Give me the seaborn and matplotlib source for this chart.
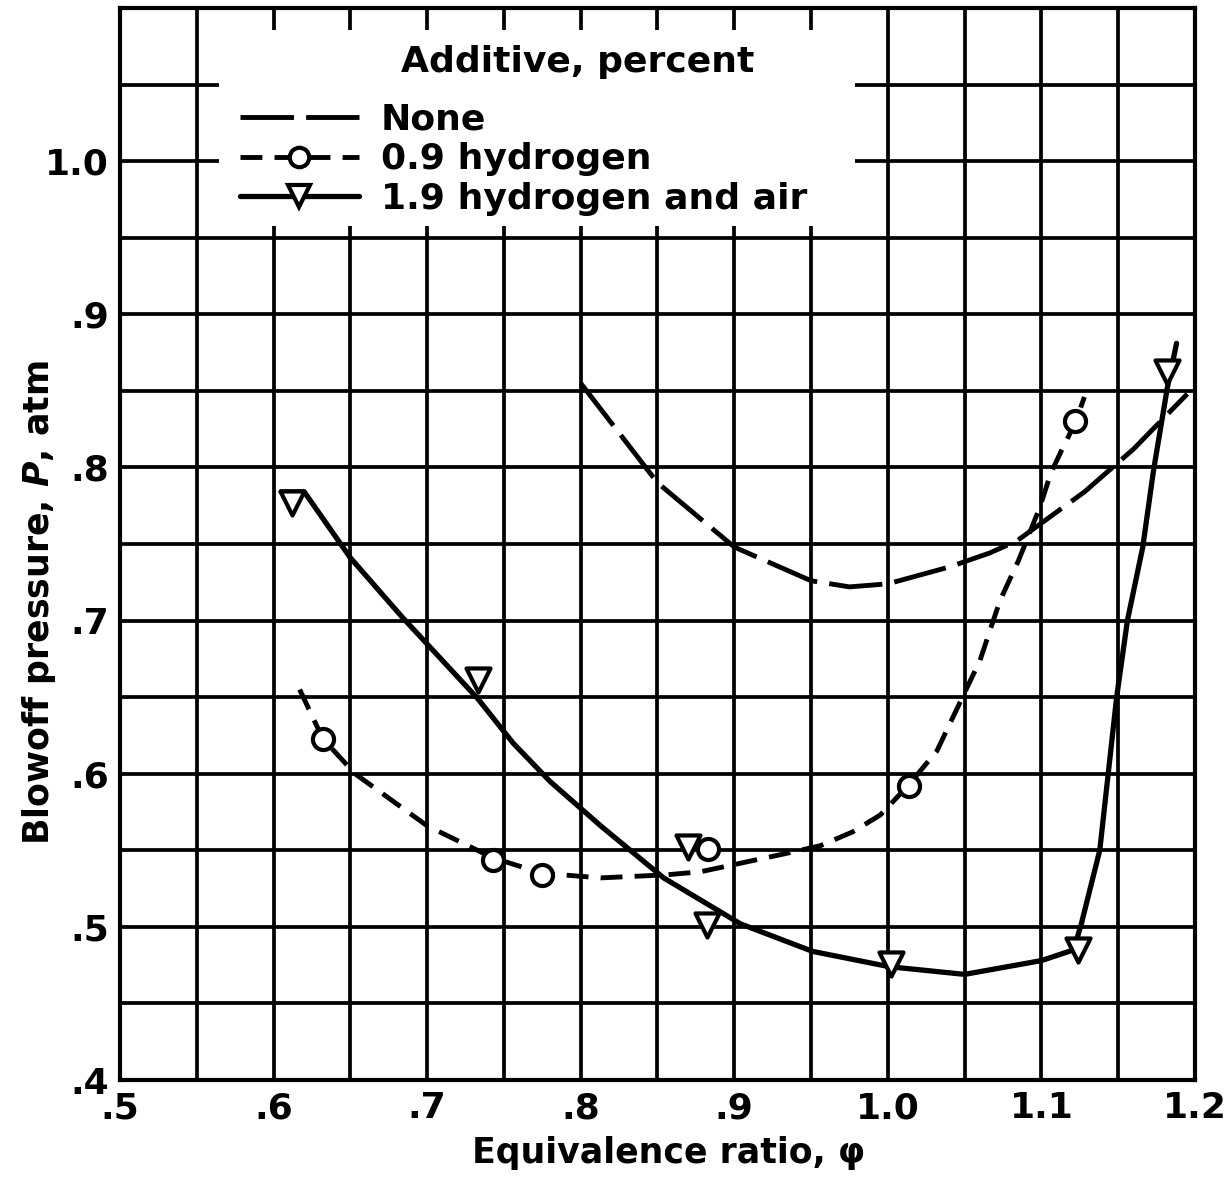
import numpy as np
import pandas as pd
import matplotlib
matplotlib.use("Agg")
import matplotlib.pyplot as plt
import seaborn as sns
from matplotlib.lines import Line2D
from matplotlib.patches import Rectangle

sns.set_style("white")
plt.rcParams["font.family"] = ["DejaVu Sans"]
plt.rcParams["font.weight"] = "bold"
plt.rcParams["text.color"] = "black"
plt.rcParams["axes.labelcolor"] = "black"
plt.rcParams["xtick.color"] = "black"
plt.rcParams["ytick.color"] = "black"
plt.rcParams["mathtext.fontset"] = "custom"
plt.rcParams["mathtext.rm"] = "DejaVu Sans:bold"
plt.rcParams["mathtext.it"] = "DejaVu Sans:italic:bold"

# --- data ---
# no additive (curve only)
none_x = [0.800, 0.850, 0.900, 0.950, 0.975, 1.000, 1.040, 1.066, 1.084, 1.128, 1.160, 1.195]
none_y = [0.855, 0.790, 0.748, 0.726, 0.722, 0.724, 0.735, 0.744, 0.752, 0.784, 0.812, 0.848]

# 0.9 percent hydrogen: faired curve and measured points
h2_curve_x = [0.617, 0.632, 0.653, 0.700, 0.743, 0.775, 0.813, 0.856, 0.878, 0.906, 0.934,
              0.956, 0.977, 0.995, 1.013, 1.032, 1.060, 1.073, 1.085, 1.099, 1.106, 1.114,
              1.122, 1.128]
h2_curve_y = [0.655, 0.623, 0.600, 0.566, 0.545, 0.535, 0.532, 0.534, 0.536, 0.542, 0.548,
              0.553, 0.562, 0.573, 0.592, 0.615, 0.674, 0.713, 0.739, 0.774, 0.796, 0.813,
              0.829, 0.846]
h2_pts_x = [0.632, 0.743, 0.775, 0.883, 1.014, 1.122]
h2_pts_y = [0.623, 0.544, 0.534, 0.551, 0.592, 0.830]

# 1.9 percent hydrogen and air: faired curve and measured points
air_curve_x = [0.605, 0.620, 0.650, 0.684, 0.733, 0.756, 0.780, 0.813, 0.854, 0.904, 0.951,
               1.001, 1.050, 1.100, 1.121, 1.126, 1.138, 1.149, 1.156, 1.166, 1.173, 1.182,
               1.188]
air_curve_y = [0.784, 0.784, 0.741, 0.702, 0.649, 0.620, 0.595, 0.566, 0.532, 0.502, 0.484,
               0.474, 0.469, 0.478, 0.485, 0.502, 0.550, 0.650, 0.700, 0.748, 0.798, 0.852,
               0.881]
air_pts_x = [0.612, 0.733, 0.870, 0.882, 1.002, 1.124, 1.182]
air_pts_y = [0.777, 0.661, 0.552, 0.501, 0.476, 0.485, 0.862]

x_ticks = [0.5, 0.6, 0.7, 0.8, 0.9, 1.0, 1.1, 1.2]
x_tick_labels = [".5", ".6", ".7", ".8", ".9", "1.0", "1.1", "1.2"]
y_ticks = [0.4, 0.5, 0.6, 0.7, 0.8, 0.9, 1.0]
y_tick_labels = [".4", ".5", ".6", ".7", ".8", ".9", "1.0"]

series_labels = ["None", "0.9 hydrogen", "1.9 hydrogen and air"]

# --- plot ---
fig = plt.figure(figsize=(12.27, 11.87), dpi=100)
ax = fig.add_axes([0.0978, 0.0901, 0.8761, 0.9032])

long_dash = (0, (11, 2.5))
short_dash = (0, (4.5, 2.5))

sns.lineplot(x=none_x, y=none_y, sort=False, estimator=None, color="black",
             lw=3.5, linestyle=long_dash, ax=ax, zorder=3)
sns.lineplot(x=h2_curve_x, y=h2_curve_y, sort=False, estimator=None, color="black",
             lw=3.5, linestyle=short_dash, ax=ax, zorder=3)
sns.lineplot(x=air_curve_x, y=air_curve_y, sort=False, estimator=None, color="black",
             lw=3.8, ax=ax, zorder=3)

sns.scatterplot(x=h2_pts_x, y=h2_pts_y, marker="o", s=230, facecolor="white",
                edgecolor="black", linewidth=3, ax=ax, zorder=5)
sns.scatterplot(x=air_pts_x, y=air_pts_y, marker="v", s=300, facecolor="white",
                edgecolor="black", linewidth=3, ax=ax, zorder=5)

ax.set_xlim(0.5, 1.2)
ax.set_ylim(0.4, 1.1)
ax.set_xticks(x_ticks)
ax.set_xticklabels(x_tick_labels, fontsize=26, fontweight="bold")
ax.set_yticks(y_ticks)
ax.set_yticklabels(y_tick_labels, fontsize=26, fontweight="bold")
ax.set_xticks(np.arange(0.5, 1.201, 0.05), minor=True)
ax.set_yticks(np.arange(0.4, 1.101, 0.05), minor=True)
ax.tick_params(which="both", length=0, pad=8)
ax.set_axisbelow(True)
ax.grid(which="both", color="black", lw=2.7)
for s in ax.spines.values():
    s.set_color("black")
    s.set_linewidth(3)

ax.set_xlabel("Equivalence ratio, φ", fontsize=25, fontweight="bold")
ax.xaxis.set_label_coords(0.51, -0.052)
ax.set_ylabel(r"Blowoff pressure, $\it{P}$, atm", fontsize=25, fontweight="bold")
ax.yaxis.set_label_coords(-0.058, 0.445)

# white box behind the legend, hiding the grid
ax.add_patch(Rectangle((0.092, 0.797), 0.592, 0.182, transform=ax.transAxes,
                       facecolor="white", edgecolor="none", zorder=2))
ax.text(0.426, 0.950, "Additive, percent", transform=ax.transAxes, fontsize=26,
        fontweight="bold", ha="center", va="center", zorder=6)

handles = [
    Line2D([], [], color="black", lw=3.5, linestyle=long_dash),
    Line2D([], [], color="black", lw=3.5, linestyle=short_dash, marker="o",
           markersize=14, markerfacecolor="white", markeredgewidth=3),
    Line2D([], [], color="black", lw=3.8, marker="v", markersize=16,
           markerfacecolor="white", markeredgewidth=3),
]
leg = ax.legend(handles, series_labels, loc="upper left", bbox_to_anchor=(0.088, 0.935),
                frameon=False, handlelength=3.3, handletextpad=0.6,
                labelspacing=0.15, borderpad=0.2,
                prop={"size": 26, "weight": "bold"})
leg.set_zorder(6)

fig.savefig("out.png", dpi=100)
